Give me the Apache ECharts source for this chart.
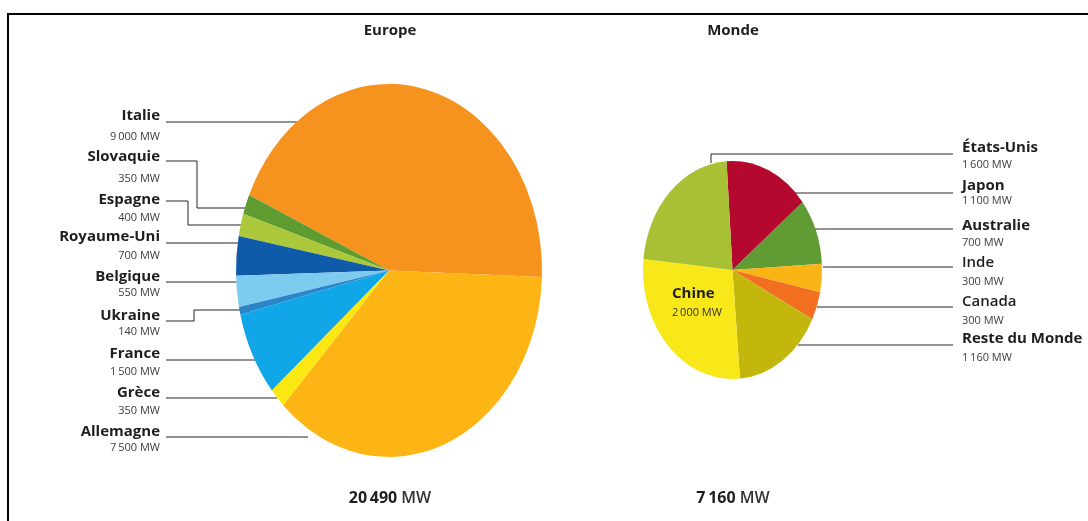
<!DOCTYPE html>
<html>
<head>
<meta charset="utf-8">
<script src="https://cdn.jsdelivr.net/npm/echarts@6/dist/echarts.min.js"></script>
<style>
  html, body { margin: 0; padding: 0; background: #fff; }
  #chart { width: 1088px; height: 521px; }
</style>
</head>
<body>
<div id="chart"></div>
<script>
// Puissance installée (MW) — Europe, slices counter-clockwise from the right
const europeNames  = ['Italie', 'Slovaquie', 'Espagne', 'Royaume-Uni', 'Belgique', 'Ukraine', 'France', 'Grèce', 'Allemagne'];
const europeValues = [9000, 350, 400, 700, 550, 140, 1500, 350, 7500];
const europeColors = ['#F6921E', '#5E9C31', '#AAC83A', '#0F5BAA', '#7DCBEF', '#2B86C9', '#10A6E8', '#FBE813', '#FDB515'];

// Monde, slices clockwise from the top
const worldNames  = ['Japon', 'Australie', 'Inde', 'Canada', 'Reste du Monde', 'Chine', 'États-Unis'];
const worldValues = [1100, 700, 300, 300, 1160, 2000, 1600];
const worldColors = ['#B5082F', '#619B34', '#FBB416', '#F26F22', '#C3B60C', '#F8E81A', '#A8C033'];

const titles = ['Europe', 'Monde'];

const NAME_FONT = 'bold 15px "Open Sans", sans-serif';
const VALUE_FONT = '11px "Open Sans", sans-serif';
const LEADER = { stroke: '#262626', lineWidth: 1, fill: null };

function fmt(n) {
  const s = String(n);
  return s.length > 3 ? s.slice(0, s.length - 3) + '\u2009' + s.slice(-3) : s;
}
const sum = arr => arr.reduce((a, b) => a + b, 0);

// Elliptical pie: a sector per value, squashed vertically around its centre
function ellipsePie(values, colors, cx, cy, rx, ry, startDeg, clockwise) {
  const total = sum(values);
  const starts = [];
  let acc = 0;
  values.forEach(v => { starts.push(acc); acc += v; });
  const dir = clockwise ? -1 : 1;
  return {
    type: 'custom',
    coordinateSystem: 'none',
    silent: true,
    data: values.map((v, i) => [v, starts[i]]),
    renderItem: (params, api) => {
      const v = api.value(0), s = api.value(1);
      const a0 = startDeg + dir * s / total * 360;
      const a1 = startDeg + dir * (s + v) / total * 360;
      return {
        type: 'sector',
        x: cx, y: cy,
        scaleX: 1, scaleY: ry / rx,
        shape: {
          cx: 0, cy: 0, r: rx, r0: 0,
          startAngle: -a0 * Math.PI / 180,
          endAngle: -a1 * Math.PI / 180,
          clockwise: clockwise
        },
        style: { fill: colors[params.dataIndex] }
      };
    }
  };
}

// Label layout (name line y, value line y, leader line)
const europeLabelY = [116, 157, 200, 237, 277, 316, 354, 393, 432];
const europeValueY = [137, 179, 218, 256, 293, 332, 372, 411, 448];
const europeLeaders = [
  [[166, 122], [297, 122]],
  [[166, 161], [197, 161], [197, 208], [245, 208]],
  [[166, 201], [188, 201], [188, 225], [243, 225]],
  [[166, 243], [238, 243]],
  [[166, 282], [237, 282]],
  [[166, 321], [194, 321], [194, 310], [242, 310]],
  [[166, 360], [255, 360]],
  [[166, 398], [277, 398]],
  [[166, 437], [308, 437]]
];

// World labels at the right, by index into worldNames (Chine is drawn inside)
const worldLabelOrder = [6, 0, 1, 2, 3, 4];
const worldLabelY = [148, 186, 226, 263, 302, 339];
const worldValueY = [165, 201, 243, 282, 321, 358];
const worldLeaders = [
  [[711, 163], [711, 154], [953, 154]],
  [[795, 193], [953, 193]],
  [[815, 229], [953, 229]],
  [[823, 267], [953, 267]],
  [[817, 307], [953, 307]],
  [[798, 345], [953, 345]]
];
const lighterNames = ['Inde', 'Canada'];

const graphics = [];

// frame
graphics.push({ type: 'polyline', shape: { points: [[8, 521], [8, 14], [1088, 14]] },
  style: { stroke: '#000', lineWidth: 2, fill: null } });

// titles
[[titles[0], 390], [titles[1], 733]].forEach(([t, x]) => {
  graphics.push({ type: 'text', x: x, y: 31,
    style: { text: t, font: 'bold 15px "Open Sans", sans-serif', fill: '#1e1e1e', textAlign: 'center', textVerticalAlign: 'middle' } });
});

// totals
[[sum(europeValues), 390], [sum(worldValues), 733]].forEach(([v, x]) => {
  graphics.push({ type: 'text', x: x, y: 498,
    style: {
      text: '{b|' + fmt(v) + '}{r| MW}',
      rich: {
        b: { font: 'bold 16px "Open Sans", sans-serif', fill: '#1e1e1e' },
        r: { font: '600 16px "Open Sans", sans-serif', fill: '#333' }
      },
      textAlign: 'center', textVerticalAlign: 'middle'
    } });
});

// Europe labels
europeNames.forEach((n, i) => {
  graphics.push({ type: 'text', x: 160, y: europeLabelY[i],
    style: { text: n, font: NAME_FONT, fill: '#1e1e1e', textAlign: 'right', textVerticalAlign: 'middle' } });
  graphics.push({ type: 'text', x: 160, y: europeValueY[i],
    style: { text: fmt(europeValues[i]) + ' MW', font: VALUE_FONT, fill: '#3c3c3c', textAlign: 'right', textVerticalAlign: 'middle' } });
  graphics.push({ type: 'polyline', shape: { points: europeLeaders[i] }, style: LEADER });
});

// World labels
worldLabelOrder.forEach((idx, k) => {
  const n = worldNames[idx];
  const weight = lighterNames.includes(n) ? '600' : 'bold';
  graphics.push({ type: 'text', x: 962, y: worldLabelY[k],
    style: { text: n, font: weight + ' 15px "Open Sans", sans-serif', fill: '#1e1e1e', textAlign: 'left', textVerticalAlign: 'middle' } });
  graphics.push({ type: 'text', x: 962, y: worldValueY[k],
    style: { text: fmt(worldValues[idx]) + ' MW', font: VALUE_FONT, fill: '#3c3c3c', textAlign: 'left', textVerticalAlign: 'middle' } });
  graphics.push({ type: 'polyline', shape: { points: worldLeaders[k] }, style: LEADER });
});

// Chine, labelled inside its slice
const chineIdx = worldNames.indexOf('Chine');
graphics.push({ type: 'text', x: 672, y: 294, z: 10,
  style: { text: worldNames[chineIdx], font: NAME_FONT, fill: '#1e1e1e', textAlign: 'left', textVerticalAlign: 'middle' } });
graphics.push({ type: 'text', x: 672, y: 313, z: 10,
  style: { text: fmt(worldValues[chineIdx]) + ' MW', font: VALUE_FONT, fill: '#333', textAlign: 'left', textVerticalAlign: 'middle' } });

const chart = echarts.init(document.getElementById('chart'), null, { renderer: 'canvas' });
chart.setOption({
  backgroundColor: '#fff',
  animation: false,
  series: [
    ellipsePie(europeValues, europeColors, 389, 270.5, 153, 186.5, -2, false),
    ellipsePie(worldValues, worldColors, 732.5, 270, 89.5, 109, 93.8, true)
  ],
  graphic: { elements: graphics }
});
</script>
</body>
</html>
